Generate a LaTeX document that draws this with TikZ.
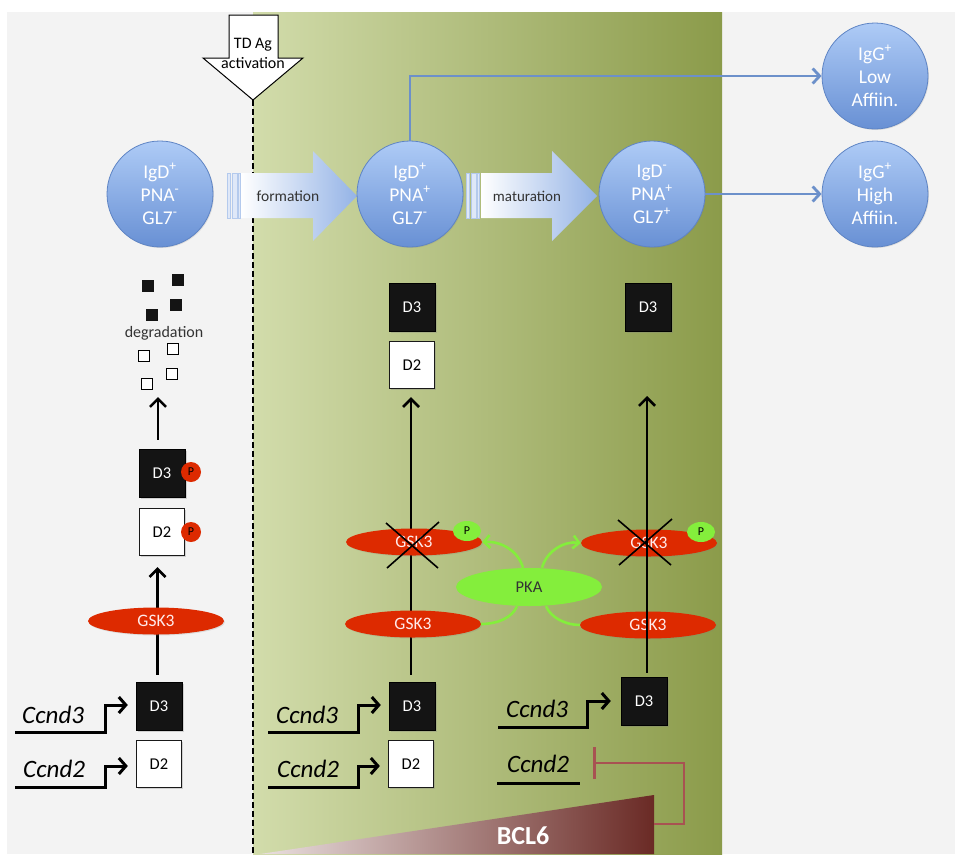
\documentclass[tikz,border=0pt]{standalone}
\usepackage{fontspec}
\setmainfont{Carlito}
\usetikzlibrary{arrows.meta,shapes.geometric,shadows}
\definecolor{bggray}{HTML}{F3F3F3}
\definecolor{grL}{HTML}{D2DCAB}
\definecolor{grR}{HTML}{8B9B4A}
\definecolor{celltop}{HTML}{AECBF6}
\definecolor{cellbot}{HTML}{6890D4}
\definecolor{cellline}{HTML}{5E84C4}
\definecolor{connblue}{HTML}{6C90CA}
\definecolor{barrow}{HTML}{94B3E6}
\definecolor{gskred}{HTML}{DD2A00}
\definecolor{pkagreen}{HTML}{84EE3C}
\definecolor{inhib}{HTML}{A85252}
\definecolor{bclL}{HTML}{EAE0E0}
\definecolor{bclD}{HTML}{6A2A25}
\begin{document}
\begin{tikzpicture}[x=1pt,y=-1pt,
  cell/.style={circle, minimum size=106pt, inner sep=0pt, draw=cellline, line width=0.8pt,
    top color=celltop, bottom color=cellbot, text=white, align=center,
    font=\fontsize{19.5}{23}\selectfont,
    drop shadow={opacity=0.2, shadow xshift=1pt, shadow yshift=-1pt}},
  dblack/.style={draw=black, fill=black!92, text=white, minimum width=46pt, minimum height=48pt,
    inner sep=0pt, font=\fontsize{16.5}{16.5}\selectfont,
    drop shadow={opacity=0.3, shadow xshift=1.5pt, shadow yshift=-1.5pt}},
  dwhite/.style={draw=black!90, line width=1.3pt, fill=white, text=black, minimum width=45pt,
    minimum height=47pt, inner sep=0pt, font=\fontsize{16.5}{16.5}\selectfont,
    drop shadow={opacity=0.3, shadow xshift=1.5pt, shadow yshift=-1.5pt}},
  gsk/.style={ellipse, fill=gskred, minimum width=136pt, minimum height=27pt, inner sep=0pt,
    text=white!92!red, font=\fontsize{17.5}{17.5}\selectfont,
    drop shadow={opacity=0.2, shadow xshift=1pt, shadow yshift=-1pt}},
  pka/.style={ellipse, fill=pkagreen, minimum width=146pt, minimum height=38pt, inner sep=0pt,
    text=black!80, font=\fontsize{16.5}{16.5}\selectfont},
  pred/.style={circle, fill=gskred, minimum size=20pt, inner sep=0pt, text=black,
    font=\fontsize{12}{12}\selectfont},
  pgreen/.style={ellipse, fill=pkagreen, minimum width=28pt, minimum height=20pt, inner sep=0pt,
    text=black, font=\fontsize{12}{12}\selectfont},
  gene/.style={inner sep=0pt, font=\fontsize{25}{25}\selectfont\itshape, anchor=base west},
  sqb/.style={fill=black!92, minimum size=12pt, inner sep=0pt},
  sqw/.style={draw=black, line width=1.2pt, fill=white, minimum size=11pt, inner sep=0pt},
  arr/.style={line width=2.6pt, -{Straight Barb[length=8pt,width=16pt]}},
  genearr/.style={line width=3pt, -{Straight Barb[length=7pt,width=16pt]}},
  blueconn/.style={draw=connblue, line width=2.8pt, -{Straight Barb[length=7pt,width=15pt]}},
  garr/.style={draw=pkagreen, line width=2.6pt, -{Straight Barb[length=6pt,width=13pt]}},
  gline/.style={draw=pkagreen, line width=2.6pt},
  cross/.style={line width=1.6pt, black},
  stripe/.style={fill=white!70!barrow, draw=barrow!70, line width=0.4pt},
  lbl/.style={text=black!80, font=\fontsize{15.5}{15.5}\selectfont}
]
\useasboundingbox (0,0) rectangle (955,854);
\clip (0,0) rectangle (955,854);
% backgrounds
\fill[white] (0,0) rectangle (955,854);
\fill[bggray] (7,12) rectangle (955,854);
\shade[left color=grL, right color=grR] (253,12) rectangle (722,854);

% BCL6 wedge
\shade[left color=bclL, right color=bclD] (260,854) -- (654,795) -- (654,854) -- cycle;
\node[text=white, font=\fontsize{26}{26}\selectfont\bfseries] (bcl) at (523,836) {BCL6};
\coordinate (bclr) at (654,824);

% TD Ag activation arrow
\draw[fill=white, line width=1pt] (229,15) -- (278,15) -- (278,58) -- (303,58) -- (253,100)
  -- (203,58) -- (229,58) -- cycle;
\node[align=center, font=\fontsize{16}{20}\selectfont] (td) at (253,53) {TD Ag\\activation};
\coordinate (tdtip) at (253,100);
\coordinate (dashend) at (253,854);
\draw[line width=2.4pt, dash pattern=on 6pt off 3pt] (tdtip) -- (dashend);

% block arrows
\shade[left color=white, right color=barrow] (241,173) -- (313,173) -- (313,151) -- (357,196)
  -- (313,241) -- (313,218) -- (241,218) -- cycle;
\fill[stripe] (227,173) rectangle (230,218);
\fill[stripe] (232,173) rectangle (237,218);
\fill[stripe] (238.5,173) rectangle (240.5,218);
\node[lbl] (form) at (288,196) {formation};
\shade[left color=white, right color=barrow] (481,173) -- (552,173) -- (552,151) -- (597,196)
  -- (552,241) -- (552,218) -- (481,218) -- cycle;
\fill[stripe] (466,173) rectangle (469,218);
\fill[stripe] (471,173) rectangle (476,218);
\fill[stripe] (477.5,173) rectangle (479.5,218);
\node[lbl, font=\fontsize{15}{15}\selectfont] (mat) at (527,196) {maturation};

% cells
\node[cell] (c1) at (160,194) {IgD\textsuperscript{+}\\PNA\textsuperscript{-}\\GL7\textsuperscript{-}};
\node[cell] (c2) at (410,194) {IgD\textsuperscript{+}\\PNA\textsuperscript{+}\\GL7\textsuperscript{-}};
\node[cell] (c3) at (652,194) {IgD\textsuperscript{-}\\PNA\textsuperscript{+}\\GL7\textsuperscript{+}};
\node[cell] (g1) at (875,76) {IgG\textsuperscript{+}\\Low\\Affiin.};
\node[cell] (g2) at (875,194) {IgG\textsuperscript{+}\\High\\Affiin.};
\draw[blueconn] (c2.north) |- (g1.west);
\draw[blueconn] (c3.east) -- (g2.west);

% ---------- left column ----------
\node[sqb] (b1) at (148,286) {};
\node[sqb] (b2) at (178,280) {};
\node[sqb] (b3) at (176,305) {};
\node[sqb] (b4) at (152,315) {};
\node[font=\fontsize{16}{16}\selectfont, text=black!80] (deg) at (164,333) {degradation};
\node[sqw] (w1) at (144,356) {};
\node[sqw] (w2) at (173,349) {};
\node[sqw] (w3) at (172,374) {};
\node[sqw] (w4) at (147,384) {};
\coordinate (degtip) at (158,397);

\node[dblack] (L3a) at (162,473) {D3};
\node[dwhite] (L2a) at (162,532) {D2};
\node[pred] (Lp1) at (191,472) {P};
\node[pred] (Lp2) at (191,532) {P};
\draw[arr, shorten <=9pt] (L3a.north -| degtip) -- (degtip);

\node[dblack] (L3b) at (159,706) {D3};
\node[dwhite] (L2b) at (159,764) {D2};
\draw[arr, shorten <=7pt, shorten >=11pt] ([xshift=-1.5pt]L3b.north) -- ([xshift=-1.5pt]L3b.north |- L2a.south);
\node[gsk] (Lg) at (156,621) {GSK3};

\coordinate (Ls3) at (15,732);
\coordinate (Ls2) at (15,787);
\node[gene] (Lc3) at (22,723) {Ccnd3};
\node[gene] (Lc2) at (23,777) {Ccnd2};
\draw[genearr, shorten >=8pt] (Ls3) -- (105,732) |- ([yshift=1pt]L3b.west);
\draw[genearr, shorten >=8pt] (Ls2) -- (105,787) |- ([yshift=-2pt]L2b.west);

% ---------- middle column ----------
\node[dblack] (M3a) at (412,307) {D3};
\node[dwhite] (M2a) at (412,365) {D2};
\node[dblack] (M3b) at (412,706) {D3};
\node[dwhite] (M2b) at (411,764) {D2};
\draw[arr, shorten <=7pt, shorten >=8pt] ([xshift=-1pt]M3b.north) -- ([xshift=-1pt]M3b.north |- M2a.south);
\node[gsk] (Mgx) at (414,542) {GSK3};
\node[gsk] (Mgl) at (413,624) {GSK3};
\node[pgreen] (Mp) at (467,531) {P};
\draw[cross] (386,523) -- (438,568);
\draw[cross] (439,522) -- (387,568);

\coordinate (Ms3) at (268,732);
\coordinate (Ms2) at (268,787);
\node[gene] (Mc3) at (276,723) {Ccnd3};
\node[gene] (Mc2) at (277,777) {Ccnd2};
\draw[genearr, shorten >=8pt] (Ms3) -- (358,732) |- ([yshift=1pt]M3b.west);
\draw[genearr, shorten >=8pt] (Ms2) -- (358,787) |- ([yshift=-2pt]M2b.west);

% ---------- PKA ----------
\node[pka] (pka) at (529,587) {PKA};

% ---------- right column ----------
\node[dblack] (R3a) at (648,307) {D3};
\node[dblack] (R3b) at (644,701) {D3};
\node[gsk] (Rgx) at (649,543) {GSK3};
\node[gsk] (Rgl) at (648,625) {GSK3};
\node[pgreen] (Rp) at (701,532) {P};
\coordinate (rtip) at (647,396);
\draw[arr, shorten <=4pt] (R3b.north -| rtip) -- (rtip);
\draw[cross] (618,520) -- (671,565);
\draw[cross] (672,519) -- (619,565);

\coordinate (Rs3) at (498,727);
\coordinate (Rs2) at (497,783);
\coordinate (Re2) at (580,783);
\node[gene] (Rc3) at (506,717) {Ccnd3};
\node[gene] (Rc2) at (507,772) {Ccnd2};
\draw[genearr, shorten >=10pt] (Rs3) -- (587,727) |- (R3b.west);
\draw[line width=3pt] (Rs2) -- (Re2);

% inhibition by BCL6
\coordinate (inhend) at (593,763);
\draw[draw=inhib, line width=2.6pt, -{Bar[width=32pt]}] (bclr) -- (684,824) |- (inhend);

% PKA links
\draw[garr] ([xshift=-6pt]pka.north) .. controls (518,550) and (500,541) .. (Mgx.east);
\draw[garr] ([xshift=13pt]pka.north) .. controls (547,550) and (565,541) .. (Rgx.west);
\draw[gline] ([xshift=-12pt]pka.south) .. controls (512,618) and (497,624) .. (Mgl.east);
\draw[gline] ([xshift=17pt]pka.south) .. controls (551,618) and (566,625) .. (Rgl.west);
\end{tikzpicture}
\end{document}
